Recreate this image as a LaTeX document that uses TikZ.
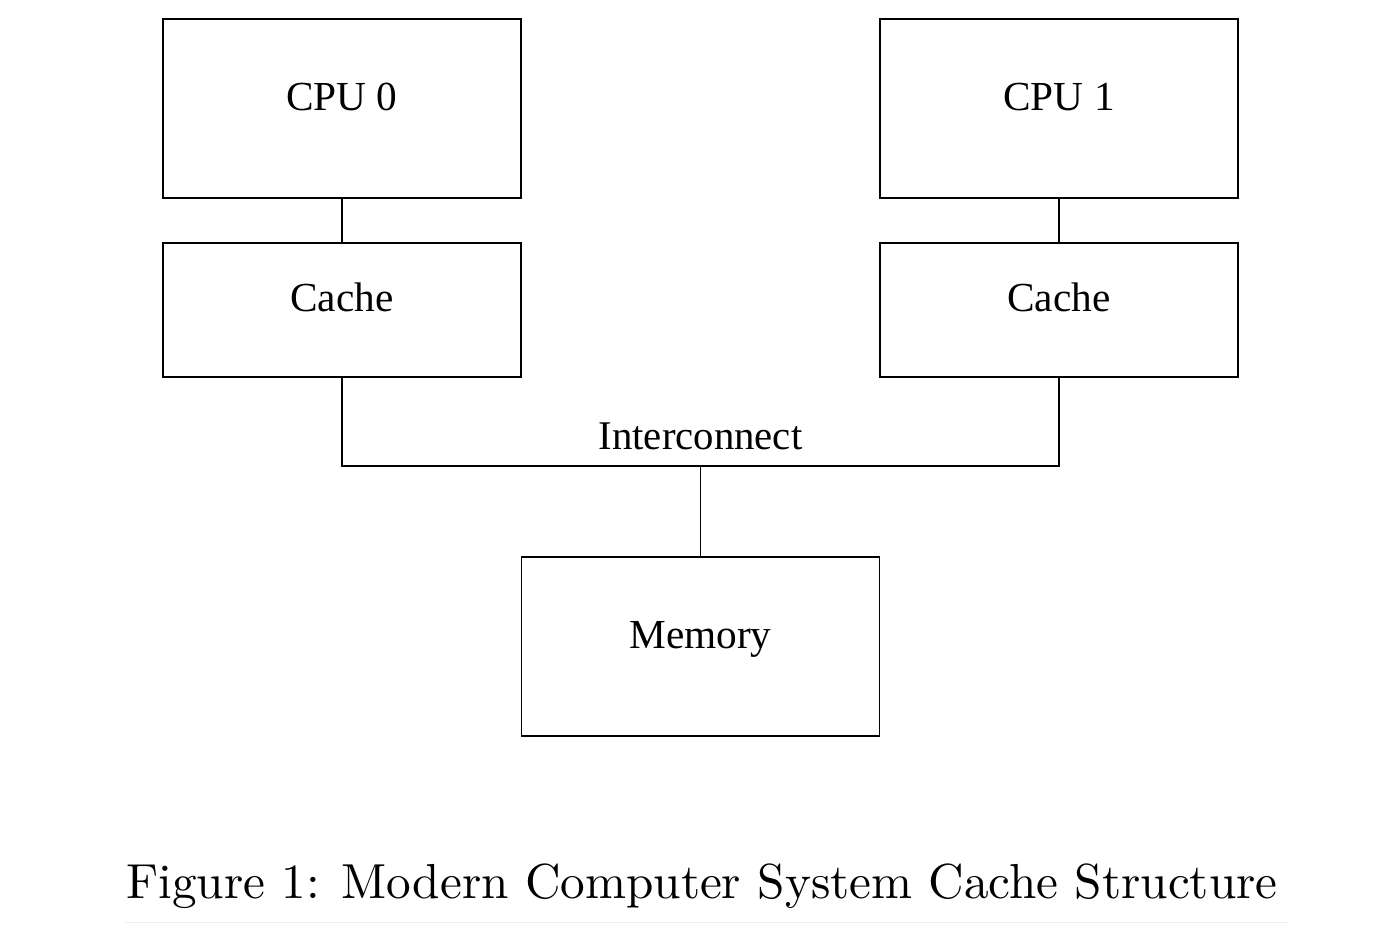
\documentclass[tikz,border=0pt]{standalone}
\usepackage{fontspec}
\newfontfamily\boxfont{Liberation Serif}
\usepackage{tikz}
\usetikzlibrary{positioning}

\begin{document}
\begin{tikzpicture}[
  unit/.style={rectangle, draw, line width=1.1pt, minimum width=7.16cm,
               minimum height=3.58cm, inner sep=0pt, text height=16pt, text depth=14pt,
               font=\boxfont\fontsize{23.5}{26}\selectfont},
  cache/.style={unit, minimum height=2.68cm},
  wire/.style={line width=1.1pt}
]
\useasboundingbox (0,0) rectangle (27.88,-18.7);

% Processors
\node[unit] (cpu0) at (6.84,-2.17)  {CPU 0};
\node[unit] (cpu1) at (21.18,-2.17) {CPU 1};

% Caches
\node[cache] (cache0) at (6.84,-6.2)  {Cache};
\node[cache] (cache1) at (21.18,-6.2) {Cache};

% Main memory
\node[unit] (mem) at (14.01,-12.93) {Memory};

% Interconnect
\coordinate (bus) at (14.01,-9.32);
\node[anchor=base, font=\boxfont\fontsize{23.2}{26}\selectfont] (icl) at (14.01,-8.98) {Interconnect};

\draw[wire] (cpu0) -- (cache0);
\draw[wire] (cpu1) -- (cache1);
\draw[wire] (cache0.south) |- (bus) -| (cache1.south);
\draw[wire] (bus) -- (mem);

% Caption
\node[anchor=base, scale=2.8, font=\fontsize{10}{12}\selectfont] (cap) at (14.04,-17.96)
  {Figure 1: Modern Computer System Cache Structure};
\coordinate (rulel) at (2.5,-18.44);
\coordinate (ruler) at (25.74,-18.44);
\draw[black!7, line width=0.5pt] (rulel) -- (ruler);

\end{tikzpicture}
\end{document}
